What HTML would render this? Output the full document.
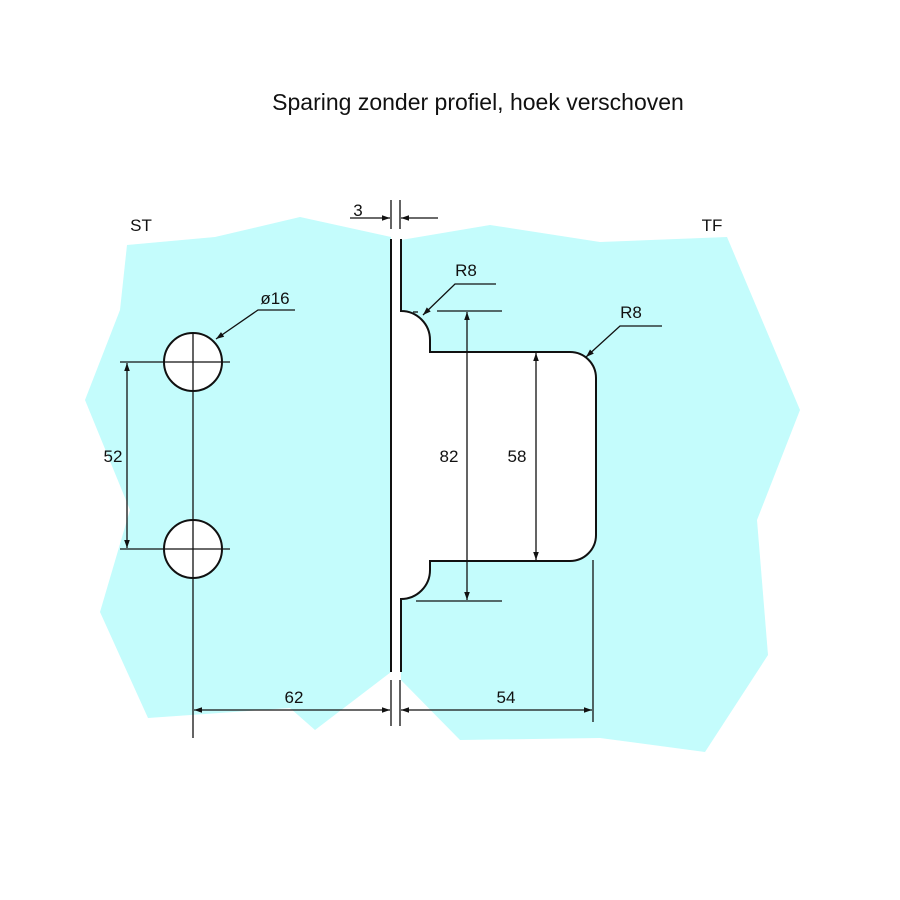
<!DOCTYPE html>
<html><head><style>body{margin:0;background:#fff}svg{display:block}text{font-family:"Liberation Sans",sans-serif;fill:#111}</style></head><body>
<svg width="900" height="900" viewBox="0 0 900 900" xmlns="http://www.w3.org/2000/svg">
<defs><marker id="a" viewBox="0 0 10 10" refX="10" refY="5" markerWidth="12" markerHeight="8" markerUnits="userSpaceOnUse" orient="auto-start-reverse"><path d="M0,1.5L10,5L0,8.5z" fill="#111"/></marker></defs>
<text x="478" y="110" font-size="23" text-anchor="middle">Sparing zonder profiel, hoek verschoven</text>
<polygon points="127,245 215,237 300,217 391,237 391,672 315,730 290,708 148,718 100,612 130,510 85,400 120,310" fill="#c4fcfc"/>
<polygon points="401,240 490,225 600,242 727,237 800,410 757,520 768,655 705,752 600,738 460,740 401,680" fill="#c4fcfc"/>
<path d="M401,311 A29,29 0 0 1 430,340 V352 H570 A26,26 0 0 1 596,378 V535 A26,26 0 0 1 570,561 H430 V570 A29,29 0 0 1 401,599 Z" fill="#fff"/>
<g stroke="#111" stroke-width="2" fill="none">
<path d="M401,239 V311 A29,29 0 0 1 430,340 V352 H570 A26,26 0 0 1 596,378 V535 A26,26 0 0 1 570,561 H430 V570 A29,29 0 0 1 401,599 V672"/>
<line x1="391" y1="239" x2="391" y2="672"/>
<circle cx="193" cy="362" r="29" fill="#fff"/>
<circle cx="193" cy="549" r="29" fill="#fff"/>
</g>
<g stroke="#111" stroke-width="1.3" fill="none">
<line x1="391" y1="200" x2="391" y2="229"/><line x1="400" y1="200" x2="400" y2="229"/>
<line x1="391" y1="680" x2="391" y2="726"/><line x1="400" y1="680" x2="400" y2="726"/>
<line x1="350" y1="218" x2="390" y2="218" marker-end="url(#a)"/>
<line x1="438" y1="218" x2="401" y2="218" marker-end="url(#a)"/>
<line x1="120" y1="362" x2="230" y2="362"/><line x1="120" y1="549" x2="230" y2="549"/>
<line x1="193" y1="332" x2="193" y2="738"/>
<line x1="127" y1="363" x2="127" y2="548" marker-start="url(#a)" marker-end="url(#a)"/>
<line x1="194" y1="710" x2="390" y2="710" marker-start="url(#a)" marker-end="url(#a)"/>
<line x1="401" y1="710" x2="592" y2="710" marker-start="url(#a)" marker-end="url(#a)"/>
<line x1="593" y1="560" x2="593" y2="722"/>
<line x1="437" y1="311" x2="502" y2="311"/><line x1="416" y1="601" x2="502" y2="601"/>
<line x1="467" y1="312" x2="467" y2="600" marker-start="url(#a)" marker-end="url(#a)"/>
<line x1="536" y1="353" x2="536" y2="560" marker-start="url(#a)" marker-end="url(#a)"/>
<line x1="413" y1="312" x2="418" y2="312"/>
<polyline points="496,284 455,284 423,315" marker-end="url(#a)"/>
<polyline points="662,326 620,326 586,357" marker-end="url(#a)"/>
<polyline points="295,310 258,310 216,339" marker-end="url(#a)"/>
</g>
<g font-size="17" text-anchor="middle">
<text x="141" y="231">ST</text><text x="712" y="231">TF</text>
<text x="358" y="216">3</text>
<text x="466" y="276">R8</text><text x="631" y="318">R8</text>
<text x="275" y="304">ø16</text>
<text x="113" y="462">52</text><text x="449" y="462">82</text><text x="517" y="462">58</text>
<text x="294" y="703">62</text><text x="506" y="703">54</text>
</g>
</svg>
</body></html>
